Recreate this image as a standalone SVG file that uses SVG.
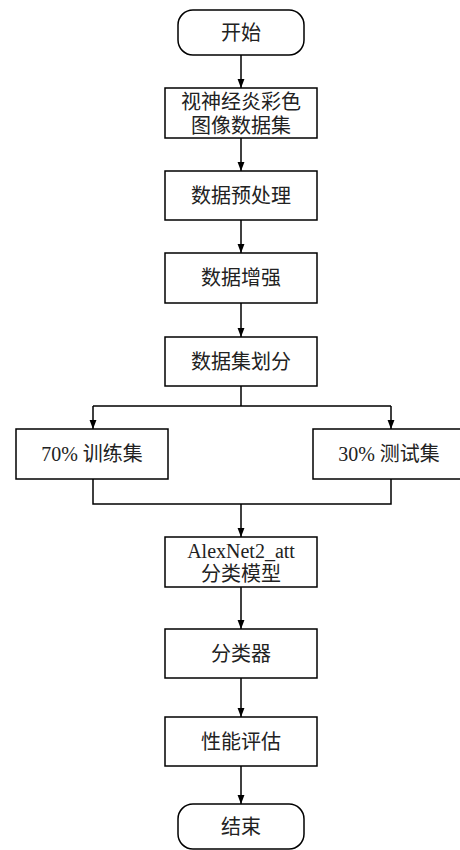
<svg xmlns="http://www.w3.org/2000/svg" width="460" height="850" viewBox="0 0 460 850">
<style>
.box{fill:#fff;stroke:#000;stroke-width:1.5}
.ln{fill:none;stroke:#000;stroke-width:1.5}
text{font-family:"Liberation Serif","Noto Sans CJK SC",serif;font-size:20px;fill:#222;text-anchor:middle;dominant-baseline:central}
</style>
<defs>
<marker id="arr" markerWidth="10" markerHeight="14" refX="13" refY="5" orient="auto" markerUnits="userSpaceOnUse" viewBox="0 0 14 10">
<path d="M0,0 L13,5 L0,10 Z" fill="#000"/>
</marker>
</defs>
<rect width="460" height="850" fill="#fff"/>
<g id="connectors">
<path class="ln" d="M241,55 V88" marker-end="url(#arr)"/>
<path class="ln" d="M241,138 V171" marker-end="url(#arr)"/>
<path class="ln" d="M241,220 V253" marker-end="url(#arr)"/>
<path class="ln" d="M241,303 V337" marker-end="url(#arr)"/>
<path class="ln" d="M241,386 V406 M93,406 H391"/>
<path class="ln" d="M93,406 V429" marker-end="url(#arr)"/>
<path class="ln" d="M391,406 V429" marker-end="url(#arr)"/>
<path class="ln" d="M93,479 V504 H391 V479"/>
<path class="ln" d="M241,504 V537" marker-end="url(#arr)"/>
<path class="ln" d="M241,587 V629" marker-end="url(#arr)"/>
<path class="ln" d="M241,678 V717" marker-end="url(#arr)"/>
<path class="ln" d="M241,766 V804" marker-end="url(#arr)"/>
</g>
<g id="start"><rect class="box" x="178" y="10" width="126" height="45" rx="15"/><text x="241" y="33">开始</text></g>
<g id="dataset"><rect class="box" x="165" y="88" width="152" height="50"/><text x="241" y="102">视神经炎彩色</text><text x="241" y="126">图像数据集</text></g>
<g id="preprocess"><rect class="box" x="165" y="171" width="152" height="49"/><text x="241" y="196">数据预处理</text></g>
<g id="augment"><rect class="box" x="165" y="253" width="152" height="50"/><text x="241" y="278">数据增强</text></g>
<g id="split"><rect class="box" x="165" y="337" width="152" height="49"/><text x="241" y="362">数据集划分</text></g>
<g id="train"><rect class="box" x="16" y="429" width="152" height="50"/><text x="92" y="454">70% 训练集</text></g>
<g id="test"><rect class="box" x="313" y="429" width="152" height="50"/><text x="389" y="454">30% 测试集</text></g>
<g id="model"><rect class="box" x="165" y="537" width="152" height="50"/><text x="241" y="551">AlexNet2_att</text><text x="241" y="574">分类模型</text></g>
<g id="classifier"><rect class="box" x="165" y="629" width="152" height="49"/><text x="241" y="654">分类器</text></g>
<g id="eval"><rect class="box" x="165" y="717" width="152" height="49"/><text x="241" y="742">性能评估</text></g>
<g id="end"><rect class="box" x="178" y="804" width="126" height="45" rx="15"/><text x="241" y="827">结束</text></g>
</svg>
